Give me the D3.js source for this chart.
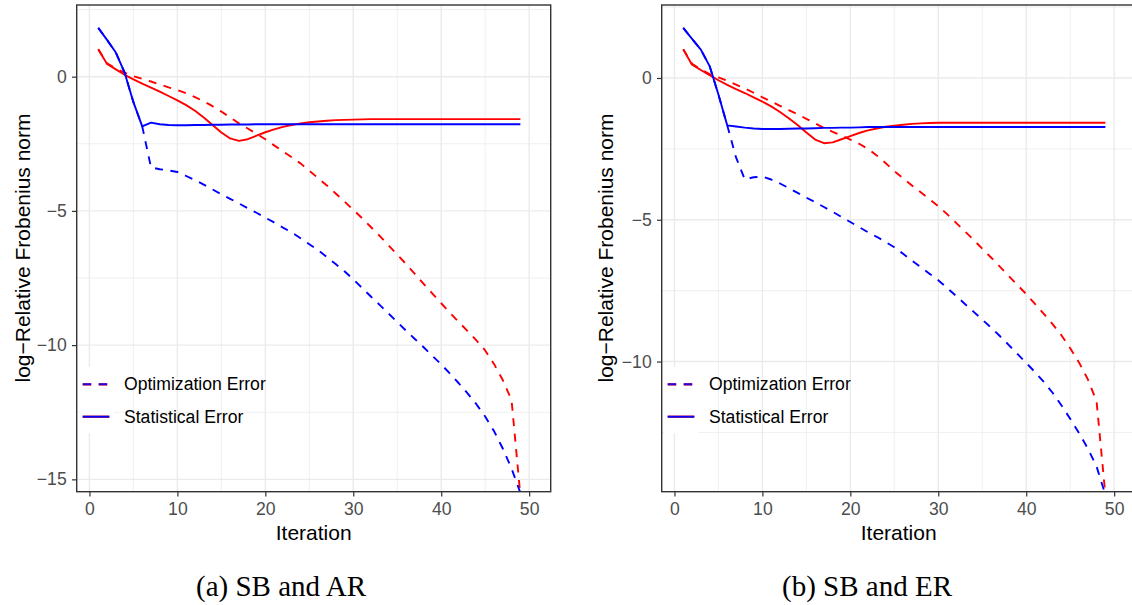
<!DOCTYPE html>
<html><head><meta charset="utf-8">
<script src="https://cdn.jsdelivr.net/npm/d3@7"></script>
<style>body{margin:0;background:#fff;} svg{display:block;font-family:"Liberation Sans",Arial,sans-serif;}</style>
</head><body>
<svg id="chart" width="1132" height="605"></svg>
<script>
// ---------- data ----------
const iterations = [1,2,3,4,5,6,7,8,9,10,11,12,13,14,15,16,17,18,19,20,21,22,23,24,25,26,27,28,29,30,31,32,33,34,35,36,37,38,39,40,41,42,43,44,45,46,47,48,49];

// panel (a) SB and AR
const optRedA  = [1.02,0.5,0.3,0.15,0.02,-0.08,-0.18,-0.29,-0.4,-0.5,-0.62,-0.76,-0.92,-1.1,-1.3,-1.52,-1.74,-1.93,-2.13,-2.33,-2.56,-2.78,-3.0,-3.23,-3.5,-3.78,-4.05,-4.35,-4.65,-4.96,-5.27,-5.6,-5.93,-6.28,-6.63,-6.98,-7.35,-7.72,-8.08,-8.44,-8.8,-9.14,-9.48,-9.82,-10.2,-10.7,-11.3,-12.05,-15.6];
const statRedA = [1.02,0.47,0.27,0.07,-0.1,-0.26,-0.41,-0.56,-0.72,-0.88,-1.06,-1.27,-1.52,-1.8,-2.08,-2.3,-2.39,-2.33,-2.2,-2.07,-1.96,-1.87,-1.8,-1.74,-1.7,-1.67,-1.64,-1.62,-1.61,-1.6,-1.59,-1.58,-1.58,-1.58,-1.58,-1.58,-1.58,-1.58,-1.58,-1.58,-1.58,-1.58,-1.58,-1.58,-1.58,-1.58,-1.58,-1.58,-1.58];
const optBlueA = [1.82,1.37,0.9,0.15,-0.95,-1.85,-3.38,-3.45,-3.49,-3.55,-3.7,-3.85,-4.02,-4.2,-4.38,-4.55,-4.72,-4.9,-5.07,-5.25,-5.43,-5.62,-5.8,-6.02,-6.24,-6.46,-6.72,-6.98,-7.25,-7.55,-7.87,-8.19,-8.5,-8.82,-9.14,-9.46,-9.77,-10.08,-10.4,-10.72,-11.06,-11.42,-11.8,-12.2,-12.66,-13.2,-13.85,-14.6,-15.5];
const statBlueA = [1.82,1.37,0.9,0.15,-0.95,-1.85,-1.71,-1.77,-1.8,-1.81,-1.81,-1.8,-1.8,-1.79,-1.79,-1.78,-1.78,-1.78,-1.77,-1.77,-1.77,-1.77,-1.77,-1.77,-1.77,-1.77,-1.77,-1.77,-1.77,-1.77,-1.77,-1.77,-1.77,-1.77,-1.77,-1.77,-1.77,-1.77,-1.77,-1.77,-1.77,-1.77,-1.77,-1.77,-1.77,-1.77,-1.77,-1.77,-1.77];

// panel (b) SB and ER
const optRedB  = [1.01,0.5,0.3,0.14,0.02,-0.1,-0.23,-0.37,-0.52,-0.68,-0.83,-0.98,-1.13,-1.28,-1.44,-1.6,-1.76,-1.9,-2.03,-2.17,-2.32,-2.5,-2.73,-3.0,-3.28,-3.54,-3.79,-4.03,-4.27,-4.52,-4.8,-5.1,-5.4,-5.7,-6.02,-6.33,-6.65,-6.98,-7.3,-7.62,-7.97,-8.32,-8.68,-9.07,-9.53,-10.03,-10.62,-11.4,-14.7];
const statRedB = [1.01,0.47,0.28,0.1,-0.08,-0.24,-0.39,-0.53,-0.68,-0.83,-1.0,-1.2,-1.42,-1.66,-1.92,-2.17,-2.3,-2.27,-2.16,-2.05,-1.94,-1.85,-1.78,-1.72,-1.68,-1.65,-1.62,-1.6,-1.59,-1.58,-1.58,-1.58,-1.58,-1.58,-1.58,-1.58,-1.58,-1.58,-1.58,-1.58,-1.58,-1.58,-1.58,-1.58,-1.58,-1.58,-1.58,-1.58,-1.58];
const optBlueB = [1.77,1.38,1.0,0.42,-0.58,-1.67,-2.8,-3.58,-3.5,-3.48,-3.58,-3.72,-3.88,-4.05,-4.22,-4.38,-4.55,-4.72,-4.9,-5.08,-5.26,-5.44,-5.6,-5.78,-5.97,-6.2,-6.44,-6.67,-6.9,-7.13,-7.4,-7.68,-7.96,-8.24,-8.52,-8.8,-9.1,-9.41,-9.73,-10.05,-10.37,-10.72,-11.1,-11.54,-12.02,-12.52,-13.06,-13.7,-14.7];
const statBlueB = [1.77,1.38,1.0,0.42,-0.58,-1.67,-1.71,-1.75,-1.78,-1.8,-1.8,-1.8,-1.79,-1.78,-1.78,-1.77,-1.76,-1.76,-1.75,-1.75,-1.74,-1.73,-1.73,-1.73,-1.73,-1.73,-1.73,-1.73,-1.73,-1.73,-1.73,-1.73,-1.73,-1.73,-1.73,-1.73,-1.73,-1.73,-1.73,-1.73,-1.73,-1.73,-1.73,-1.73,-1.73,-1.73,-1.73,-1.73,-1.73];

const xTicks = [0,10,20,30,40,50];
const xMinor = [5,15,25,35,45];
const yTicksA = [0,-5,-10,-15];
const yTicksB = [0,-5,-10];
const yMinor = [2.5,-2.5,-7.5,-12.5];
const legendLabels = ["Optimization Error","Statistical Error"];
const xTitle = "Iteration";
const yTitle = "log\u2212Relative Frobenius norm";
const captions = ["(a) SB and AR","(b) SB and ER"];

// ---------- drawing ----------
const svg = d3.select("#chart");
const fmt = d => d < 0 ? "\u2212" + Math.abs(d) : String(d);

function drawPanel(cfg, idx) {
  const x = d3.scaleLinear().domain([-1.45, 52.45]).range([cfg.left, cfg.left + 474]);
  const y = d3.scaleLinear().domain(cfg.yDomain).range([491.7, 5]);
  const g = svg.append("g");
  const clipId = "clip" + idx;
  svg.append("clipPath").attr("id", clipId).append("rect")
    .attr("x", x.range()[0]).attr("y", 5).attr("width", 474).attr("height", 486.7);

  // gridlines
  const grid = g.append("g").attr("clip-path", `url(#${clipId})`);
  grid.selectAll(".vmin").data(xMinor).enter().append("line")
    .attr("x1", d => x(d)).attr("x2", d => x(d)).attr("y1", 5).attr("y2", 491.7)
    .attr("stroke", "#EBEBEB").attr("stroke-width", 0.8);
  grid.selectAll(".hmin").data(yMinor).enter().append("line")
    .attr("y1", d => y(d)).attr("y2", d => y(d)).attr("x1", x.range()[0]).attr("x2", x.range()[1])
    .attr("stroke", "#EBEBEB").attr("stroke-width", 0.8);
  grid.selectAll(".vmaj").data(xTicks).enter().append("line")
    .attr("x1", d => x(d)).attr("x2", d => x(d)).attr("y1", 5).attr("y2", 491.7)
    .attr("stroke", "#EBEBEB").attr("stroke-width", 1.4);
  grid.selectAll(".hmaj").data(cfg.yTicks).enter().append("line")
    .attr("y1", d => y(d)).attr("y2", d => y(d)).attr("x1", x.range()[0]).attr("x2", x.range()[1])
    .attr("stroke", "#EBEBEB").attr("stroke-width", 1.4);

  // legend key backgrounds (white)
  g.append("rect").attr("x", cfg.left + 3).attr("y", 367).attr("width", 34).attr("height", 66).attr("fill", "#fff");

  // lines
  const line = d3.line().x((d, i) => x(iterations[i])).y(d => y(d));
  const lines = g.append("g").attr("clip-path", `url(#${clipId})`);
  const series = [
    {v: cfg.optRed, c: "#FF0000", dash: true},
    {v: cfg.optBlue, c: "#0000FF", dash: true},
    {v: cfg.statRed, c: "#FF0000", dash: false},
    {v: cfg.statBlue, c: "#0000FF", dash: false}
  ];
  series.forEach(s => {
    lines.append("path").datum(s.v).attr("d", line)
      .attr("fill", "none").attr("stroke", s.c).attr("stroke-width", 1.9)
      .attr("stroke-dasharray", s.dash ? "8,7.5" : null)
      .attr("stroke-linejoin", "round");
  });

  // panel border
  g.append("rect").attr("x", x.range()[0]).attr("y", 5).attr("width", 474).attr("height", 486.7)
    .attr("fill", "none").attr("stroke", "#333333").attr("stroke-width", 1.4);

  // axes
  const ya = g.append("g").attr("transform", `translate(${x.range()[0]},0)`)
    .call(d3.axisLeft(y).tickValues(cfg.yTicks).tickFormat(fmt).tickSize(4.7).tickPadding(5.3));
  const xa = g.append("g").attr("transform", `translate(0,491.7)`)
    .call(d3.axisBottom(x).tickValues(xTicks).tickFormat(fmt).tickSize(4.7).tickPadding(6.2));
  [ya, xa].forEach(a => {
    a.select(".domain").remove();
    a.selectAll(".tick line").attr("stroke", "#333333").attr("stroke-width", 1.2);
    a.selectAll(".tick text").attr("fill", "#4D4D4D").style("font-size", "17.6px")
      .style("font-family", '"Liberation Sans",Arial,sans-serif');
  });

  // axis titles
  g.append("text").attr("x", (x.range()[0] + x.range()[1]) / 2).attr("y", 540)
    .attr("text-anchor", "middle").style("font-size", "21px").attr("fill", "#000").text(xTitle);
  g.append("text").attr("transform", `translate(${cfg.ytitleX},248) rotate(-90)`)
    .attr("text-anchor", "middle").attr("dy", "0.35em").style("font-size", "21px").attr("fill", "#000").text(yTitle);

  // legend
  const lg = g.append("g");
  const keyX0 = cfg.left + 6, keyX1 = cfg.left + 32.6;
  const keyY = [384.3, 416.7];
  legendLabels.forEach((lab, i) => {
    ["#FF0000", "#0000FF"].forEach((c, j) => {
      lg.append("line").attr("x1", keyX0).attr("x2", keyX1).attr("y1", keyY[i]).attr("y2", keyY[i])
        .attr("stroke", c).attr("stroke-width", j === 0 ? 2.2 : 1.9)
        .attr("stroke-opacity", j === 1 && i === 0 ? 0.85 : 1)
        .attr("stroke-dasharray", i === 0 ? "8.5,7.5" : null);
    });
    lg.append("text").attr("x", cfg.left + 47.3).attr("y", keyY[i]).attr("dy", "0.35em")
      .style("font-size", "17.6px").attr("fill", "#000").text(lab);
  });

  // caption
  svg.append("text").attr("x", cfg.capX).attr("y", 596).attr("text-anchor", "middle")
    .style("font-family", '"Liberation Serif","Times New Roman",serif').style("font-size", "29px")
    .attr("fill", "#000").text(captions[idx]);
}

drawPanel({left: 76.7, yDomain: [-15.46, 2.67], yTicks: yTicksA, ytitleX: 22.5, capX: 281,
  optRed: optRedA, statRed: statRedA, optBlue: optBlueA, statBlue: statBlueA}, 0);
drawPanel({left: 661.7, yDomain: [-14.59, 2.574], yTicks: yTicksB, ytitleX: 606, capX: 867,
  optRed: optRedB, statRed: statRedB, optBlue: optBlueB, statBlue: statBlueB}, 1);
</script>
</body></html>
